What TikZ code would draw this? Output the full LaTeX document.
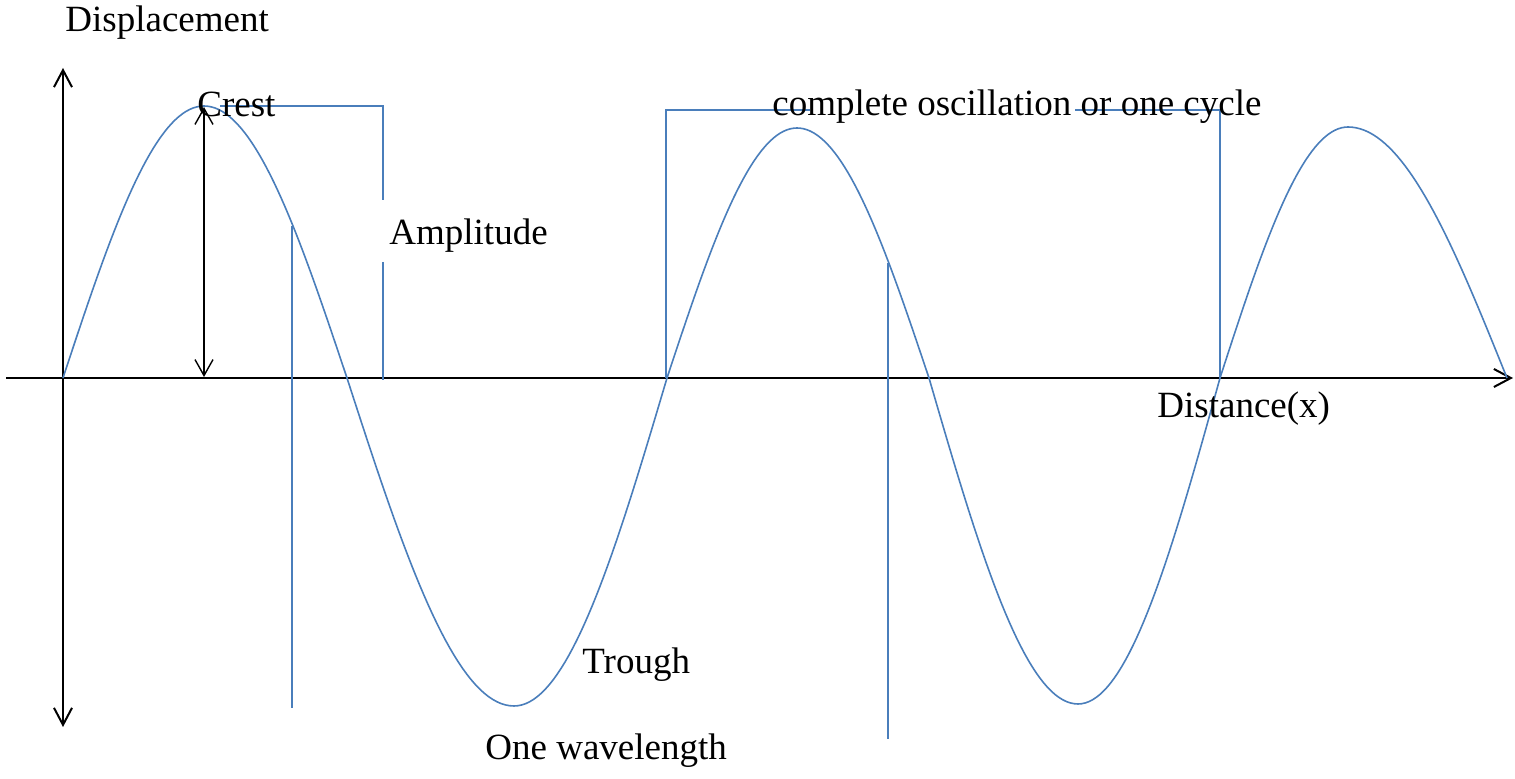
\documentclass[tikz,border=0pt]{standalone}
\usepackage{fontspec}
\setmainfont{Liberation Serif}
\usetikzlibrary{arrows.meta}
\definecolor{wblue}{RGB}{74,126,187}
\begin{document}
\begin{tikzpicture}[x=0.5pt,y=-0.5pt,
  axis/.style={black,line width=1pt},
  barb/.style={-{Straight Barb[length=8.5pt,width=9pt]}},
  wave/.style={wblue,line width=0.8pt,line join=round},
  guide/.style={wblue,line width=0.8pt},
  lbl/.style={inner sep=0pt,anchor=base west,font=\fontsize{18.5}{22}\selectfont}]
\useasboundingbox (0,0) rectangle (1515,779);
% axes
\coordinate (ytop) at (63,68);
\coordinate (ybot) at (63,727);
\coordinate (xl) at (6,378);
\coordinate (xr) at (1513,378);
\draw[axis,{Straight Barb[length=8.5pt,width=9pt]}-{Straight Barb[length=8.5pt,width=9pt]}] (ybot) -- (ytop);
\draw[axis,barb] (xl) -- (xr);
% wave
\draw[wave]
  plot[domain=0:90,samples=40] ({63+141*\x/90},{378-272*sin(\x)})
  -- plot[domain=0:90,samples=40] ({204+143*\x/90},{378-272*cos(\x)})
  -- plot[domain=0:90,samples=40] ({347+167*\x/90},{378+328*sin(\x)})
  -- plot[domain=0:90,samples=40] ({514+153*\x/90},{378+328*cos(\x)})
  -- plot[domain=0:90,samples=40] ({667+130*\x/90},{378-250*sin(\x)})
  -- plot[domain=0:90,samples=40] ({797+132*\x/90},{378-250*cos(\x)})
  -- plot[domain=0:90,samples=40] ({929+149*\x/90},{378+326*sin(\x)})
  -- plot[domain=0:90,samples=40] ({1078+142*\x/90},{378+326*cos(\x)})
  -- plot[domain=0:90,samples=40] ({1220+128*\x/90},{378-251*sin(\x)})
  -- plot[domain=0:90,samples=40] ({1348+159*\x/90},{378-251*cos(\x)});
% amplitude arrow
\coordinate (at) at (204,107);
\coordinate (ab) at (204,377);
\draw[black,line width=0.7pt,{Straight Barb[length=8pt,width=9pt]}-{Straight Barb[length=8pt,width=9pt]}] (ab) -- (at);
% crest bracket
\coordinate (c1) at (220,106);
\coordinate (c2) at (383,106);
\coordinate (c3) at (383,200);
\coordinate (c4) at (383,262);
\coordinate (c5) at (383,380);
\draw[guide] (c1) -- (c2) -- (c3);
\draw[guide] (c4) -- (c5);
% wavelength lines
\coordinate (w1t) at (292,226);
\coordinate (w1b) at (292,708);
\coordinate (w2t) at (888,263);
\coordinate (w2b) at (888,739);
\draw[guide] (w1t) -- (w1b);
\draw[guide] (w2t) -- (w2b);
% oscillation brackets
\coordinate (o1b) at (666,378);
\coordinate (o1t) at (666,110);
\coordinate (o1r) at (810,110);
\draw[guide] (o1b) -- (o1t) -- (o1r);
\coordinate (o2l) at (1075,110);
\coordinate (o2t) at (1220,110);
\coordinate (o2b) at (1220,378);
\draw[guide] (o2l) -- (o2t) -- (o2b);
% labels
\node[lbl] (disp) at (65,32) {Displacement};
\node[lbl] (crest) at (197,117) {Crest};
\node[lbl] (amp) at (389,245) {Amplitude};
\node[lbl] (osc) at (772,116) {complete oscillation or one cycle};
\node[lbl] (dist) at (1157,418) {Distance(x)};
\node[lbl] (trough) at (582,674) {Trough};
\node[lbl] (wl) at (485,760) {One wavelength};
\end{tikzpicture}
\end{document}
